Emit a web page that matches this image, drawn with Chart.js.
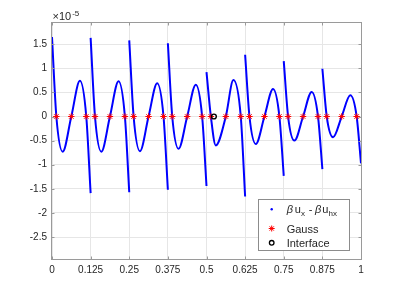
<!DOCTYPE html>
<html>
<head>
<meta charset="utf-8">
<script src="https://cdn.jsdelivr.net/npm/chart.js@4/dist/chart.umd.min.js"></script>
<style>
  html, body { margin: 0; padding: 0; background: #fff; }
  #wrap { width: 399px; height: 292px; position: relative; }
</style>
</head>
<body>
<div id="wrap"><canvas id="errChart"></canvas></div>
<script>
  // error curve, values in units of 1e-5; null splits the elements
  const errX = [
    0, 0.0141, 0.0346, 0.0625, 0.0904, 0.1109, 0.125, 0.125,
    0.125, 0.1391, 0.1596, 0.1875, 0.2154, 0.2359, 0.25, 0.25,
    0.25, 0.2641, 0.2846, 0.3125, 0.3404, 0.3609, 0.375, 0.375,
    0.375, 0.3891, 0.4096, 0.4375, 0.4654, 0.4859, 0.5, 0.5,
    0.5, 0.5141, 0.530, 0.5625, 0.587, 0.6109, 0.625, 0.625,
    0.625, 0.6391, 0.6596, 0.6875, 0.7154, 0.7359, 0.75, 0.75,
    0.75, 0.7641, 0.7846, 0.8125, 0.8404, 0.8609, 0.875, 0.875,
    0.875, 0.8891, 0.9096, 0.9375, 0.9654, 0.9859, 1
  ];
  const errY = [
    1.65, 0, -0.73, 0, 0.74, 0, -1.59, null,
    1.63, 0, -0.73, 0, 0.73, 0, -1.57, null,
    1.58, 0, -0.72, 0, 0.69, 0, -1.52, null,
    1.52, 0, -0.67, 0, 0.66, 0, -1.44, null,
    0.92, 0, -0.60, 0, 0.755, 0, -1.66, null,
    1.28, 0, -0.57, 0, 0.57, 0, -1.23, null,
    1.15, 0, -0.50, 0, 0.51, 0, -1.09, null,
    0.99, 0, -0.43, 0, 0.44, 0, -0.97
  ];
  const gaussX = [
    0.0141, 0.0625, 0.1109, 0.1391, 0.1875, 0.2359, 0.2641, 0.3125,
    0.3609, 0.3891, 0.4375, 0.4859, 0.5141, 0.5625, 0.6109, 0.6391,
    0.6875, 0.7359, 0.7641, 0.8125, 0.8609, 0.8891, 0.9375, 0.9859
  ];
  const gaussY = [0, 0, 0, 0, 0, 0, 0, 0, 0, 0, 0, 0, 0, 0, 0, 0, 0, 0, 0, 0, 0, 0, 0, 0];
  const interfaceX = [0.524];
  const interfaceY = [0];

  const xTicks = [0, 0.125, 0.25, 0.375, 0.5, 0.625, 0.75, 0.875, 1];
  const yTicks = [-2.5, -2, -1.5, -1, -0.5, 0, 0.5, 1, 1.5];
  const yMin = -2.955;
  const yMax = 1.96;

  const FONT = "'Liberation Sans', Arial, sans-serif";
  const TEXT = '#262626';
  const AXIS = '#9a9a9a';

  const toPoints = (xs, ys) => xs.map((x, i) => ({ x, y: ys[i] }));

  const framePlugin = {
    id: 'matlabFrame',
    afterDraw(chart) {
      const { ctx, chartArea: a, scales } = chart;
      const l = Math.round(a.left) - 0.5;
      const r = Math.round(a.right) + 0.5;
      const t = Math.round(a.top) + 0.5;
      const b = Math.round(a.bottom) + 0.5;
      ctx.save();
      ctx.strokeStyle = AXIS;
      ctx.lineWidth = 1;
      ctx.strokeRect(l, t, r - l, b - t);

      // inward tick marks
      ctx.beginPath();
      xTicks.forEach((v) => {
        const px = Math.round(scales.x.getPixelForValue(v)) + 0.5;
        ctx.moveTo(px, b); ctx.lineTo(px, b - 3);
        ctx.moveTo(px, t); ctx.lineTo(px, t + 3);
      });
      yTicks.forEach((v) => {
        const py = Math.round(scales.y.getPixelForValue(v)) + 0.5;
        ctx.moveTo(l, py); ctx.lineTo(l + 3, py);
        ctx.moveTo(r, py); ctx.lineTo(r - 3, py);
      });
      ctx.stroke();

      // exponent label
      ctx.fillStyle = TEXT;
      ctx.textBaseline = 'alphabetic';
      ctx.textAlign = 'left';
      ctx.font = `11px ${FONT}`;
      ctx.fillText('\u00d710', a.left + 0.5, 20);
      const w = ctx.measureText('\u00d710').width;
      ctx.font = `8px ${FONT}`;
      ctx.fillText('-5', a.left + 1.5 + w, 15.5);

      drawLegend(ctx, a);
      ctx.restore();
    },
  };

  function drawLegend(ctx, a) {
    const x0 = Math.round(a.right) - 103 + 0.5;
    const y0 = Math.round(a.bottom) - 60 + 0.5;
    const w = 91;
    const h = 51;
    ctx.fillStyle = '#fff';
    ctx.fillRect(x0, y0, w, h);
    ctx.strokeStyle = '#8c8c8c';
    ctx.lineWidth = 1;
    ctx.strokeRect(x0, y0, w, h);

    const mx = x0 + 13.2;
    const tx = x0 + 28.2;

    // row 1: error curve
    ctx.fillStyle = '#0000ff';
    ctx.beginPath();
    ctx.arc(mx, y0 + 9.8, 1.2, 0, Math.PI * 2);
    ctx.fill();

    ctx.fillStyle = TEXT;
    const base = y0 + 13.3;
    const sub = base + 3.4;
    ctx.font = `italic 11px ${FONT}`;
    ctx.fillText('\u03b2', tx, base);
    ctx.font = `11px ${FONT}`;
    ctx.fillText('u', tx + 8, base);
    ctx.font = `8px ${FONT}`;
    ctx.fillText('x', tx + 14.2, sub);
    ctx.font = `11px ${FONT}`;
    ctx.fillText('-', tx + 22, base);
    ctx.font = `italic 11px ${FONT}`;
    ctx.fillText('\u03b2', tx + 28.4, base);
    ctx.font = `11px ${FONT}`;
    ctx.fillText('u', tx + 35.6, base);
    ctx.font = `8px ${FONT}`;
    ctx.fillText('hx', tx + 41.8, sub);

    // row 2: Gauss
    const gy = y0 + 29;
    ctx.strokeStyle = '#ff0000';
    ctx.lineWidth = 1;
    ctx.beginPath();
    for (let k = 0; k < 4; k += 1) {
      const ang = (k * Math.PI) / 4;
      const dx = Math.cos(ang) * 3;
      const dy = Math.sin(ang) * 3;
      ctx.moveTo(mx - dx, gy - dy);
      ctx.lineTo(mx + dx, gy + dy);
    }
    ctx.stroke();
    ctx.fillStyle = TEXT;
    ctx.font = `11px ${FONT}`;
    ctx.fillText('Gauss', tx, y0 + 33);

    // row 3: Interface
    const iy = y0 + 43.3;
    ctx.strokeStyle = '#000';
    ctx.lineWidth = 1.3;
    ctx.beginPath();
    ctx.arc(mx, iy, 2.3, 0, Math.PI * 2);
    ctx.stroke();
    ctx.fillText('Interface', tx, y0 + 47.3);
  }

  new Chart(document.getElementById('errChart'), {
    type: 'line',
    data: {
      datasets: [
        {
          label: 'Interface',
          data: toPoints(interfaceX, interfaceY),
          showLine: false,
          pointStyle: 'circle',
          pointRadius: 2.4,
          pointBorderWidth: 1.4,
          pointBorderColor: '#000',
          pointBackgroundColor: 'rgba(255,255,255,0)',
          order: 1,
        },
        {
          label: 'Gauss',
          data: toPoints(gaussX, gaussY),
          showLine: false,
          pointStyle: 'star',
          pointRadius: 3.2,
          pointBorderWidth: 1,
          pointBorderColor: '#ff0000',
          pointBackgroundColor: '#ff0000',
          order: 2,
        },
        {
          label: '\u03b2 u_x - \u03b2 u_hx',
          data: toPoints(errX, errY),
          borderColor: '#0000ff',
          borderWidth: 2,
          pointRadius: 0,
          cubicInterpolationMode: 'monotone',
          spanGaps: false,
          fill: false,
          order: 3,
        },
      ],
    },
    options: {
      responsive: true,
      maintainAspectRatio: false,
      animation: false,
      layout: { padding: { left: 0, right: 38, top: 22, bottom: 0 } },
      plugins: {
        legend: { display: false },
        tooltip: { enabled: false },
      },
      scales: {
        x: {
          type: 'linear',
          min: 0,
          max: 1,
          afterBuildTicks(scale) { scale.ticks = xTicks.map((value) => ({ value })); },
          afterFit(scale) { scale.height = 33; },
          ticks: {
            color: TEXT,
            font: { family: FONT, size: 10 },
            padding: 5,
            maxRotation: 0,
            autoSkip: false,
            callback(value) { return String(value); },
          },
          grid: { color: '#e6e6e6', drawTicks: false },
          border: { display: false },
        },
        y: {
          type: 'linear',
          min: yMin,
          max: yMax,
          afterBuildTicks(scale) { scale.ticks = yTicks.map((value) => ({ value })); },
          afterFit(scale) { scale.width = 52; },
          ticks: {
            color: TEXT,
            font: { family: FONT, size: 10 },
            padding: 5,
            autoSkip: false,
            callback(value) { return String(value); },
          },
          grid: { color: '#e6e6e6', drawTicks: false },
          border: { display: false },
        },
      },
    },
    plugins: [framePlugin],
  });
</script>
</body>
</html>
